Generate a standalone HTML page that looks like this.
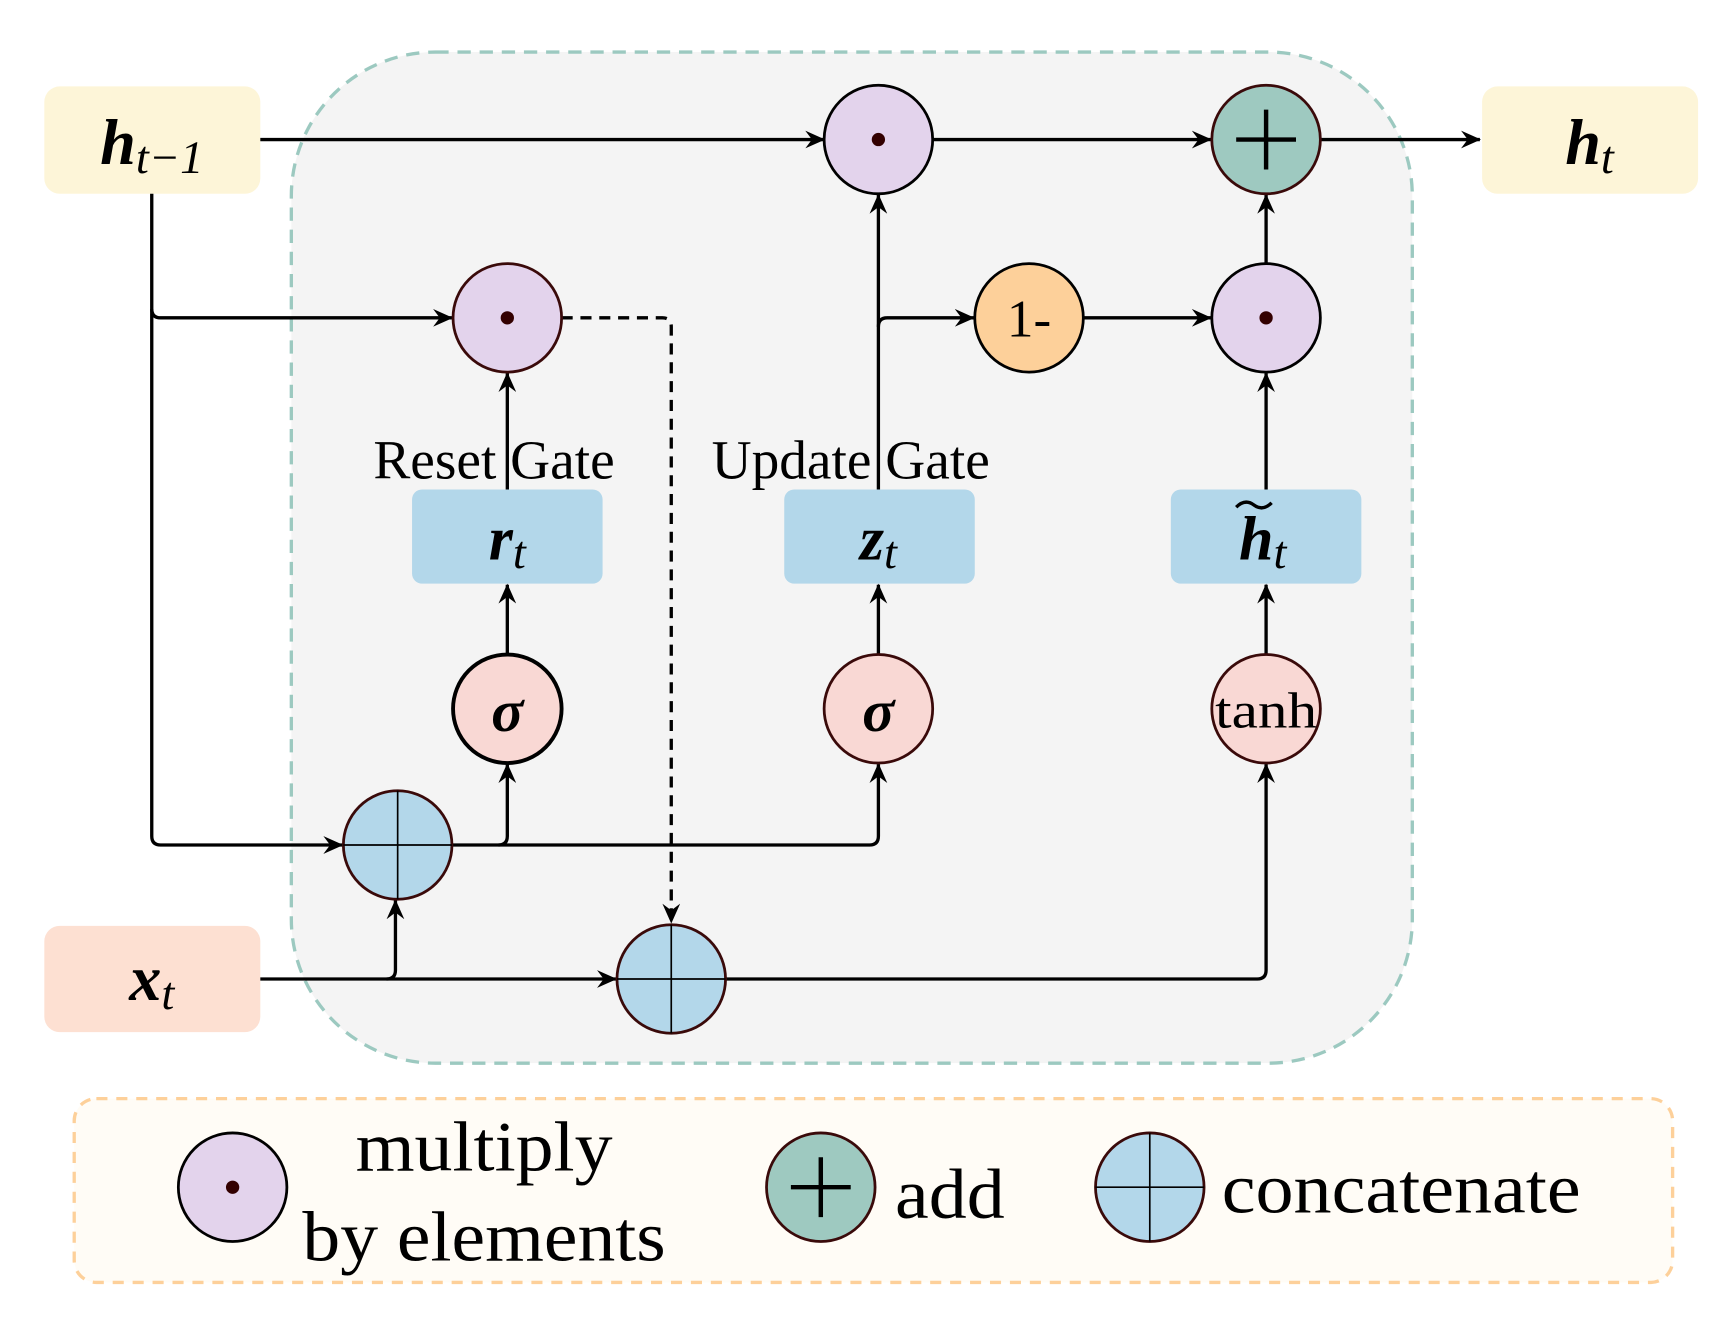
<!DOCTYPE html>
<html><head><meta charset="utf-8"><style>
html,body{margin:0;padding:0;background:#fff;}
svg{display:block;}
.m{font-family:"Liberation Serif",serif;font-style:italic;}
.t{font-family:"Liberation Serif",serif;}
</style></head><body>
<svg width="1728" height="1319" viewBox="0 0 1560 1191" preserveAspectRatio="none" xmlns="http://www.w3.org/2000/svg">
<defs>
<marker id="a" markerWidth="18" markerHeight="16" refX="17" refY="8" orient="auto" markerUnits="userSpaceOnUse" viewBox="0 0 18 16">
<path d="M0,0 L18,8 L0,16 L6,8 Z" fill="#000"/></marker>
</defs>
<rect x="263" y="47" width="1012" height="913" rx="130" fill="#f4f4f4" stroke="#9cc9c0" stroke-width="3" stroke-dasharray="12,8"/>
<rect x="40" y="78" width="195" height="97" rx="14" fill="#fdf5d8"/>
<rect x="1338" y="78" width="195" height="97" rx="14" fill="#fdf5d8"/>
<rect x="40" y="836" width="195" height="96" rx="14" fill="#fde0d2"/>
<text x="137" y="148" class="m" font-size="58" text-anchor="middle" font-weight="bold">h<tspan font-size="42" dy="8" font-weight="normal">t−1</tspan></text>
<text x="1435" y="148" class="m" font-size="58" text-anchor="middle" font-weight="bold">h<tspan font-size="42" dy="8" font-weight="normal">t</tspan></text>
<text x="137" y="903" class="m" font-size="58" text-anchor="middle" font-weight="bold">x<tspan font-size="42" dy="8" font-weight="normal">t</tspan></text>
<rect x="372" y="442" width="172" height="85" rx="9" fill="#b3d7ea"/>
<rect x="708" y="442" width="172" height="85" rx="9" fill="#b3d7ea"/>
<rect x="1057" y="442" width="172" height="85" rx="9" fill="#b3d7ea"/>
<text x="458" y="505" class="m" font-size="56" text-anchor="middle" font-weight="bold">r<tspan font-size="42" dy="8" font-weight="normal">t</tspan></text>
<text x="793" y="505" class="m" font-size="56" text-anchor="middle" font-weight="bold">z<tspan font-size="42" dy="8" font-weight="normal">t</tspan></text>
<text x="1140" y="505" class="m" font-size="56" text-anchor="middle" font-weight="bold">h<tspan font-size="42" dy="8" font-weight="normal">t</tspan></text>
<path d="M1116,458 q8,-8 16,-2 t16,-2" stroke="#000" stroke-width="3" fill="none"/>
<text x="446" y="432" class="t" font-size="50" text-anchor="middle">Reset Gate</text>
<text x="768" y="432" class="t" font-size="50" text-anchor="middle">Update Gate</text>
<g stroke="#000" stroke-width="3" fill="none">
<path d="M235,126 H744" marker-end="url(#a)"/>
<path d="M842,126 H1093" marker-end="url(#a)"/>
<path d="M1192,126 H1336" marker-end="url(#a)"/>
<path d="M137,175 V755 q0,8 8,8 H309" marker-end="url(#a)"/>
<path d="M137,279 q0,8 8,8 H408" marker-end="url(#a)"/>
<path d="M507,287 H598 q8,0 8,8 V833" stroke-dasharray="10,7" marker-end="url(#a)"/>
<path d="M408,763 H785 q8,0 8,-8 V690" marker-end="url(#a)"/>
<path d="M450,763 q8,0 8,-8 V690" marker-end="url(#a)"/>
<path d="M458,591 V528" marker-end="url(#a)"/>
<path d="M458,442 V337" marker-end="url(#a)"/>
<path d="M793,591 V528" marker-end="url(#a)"/>
<path d="M793,442 V176" marker-end="url(#a)"/>
<path d="M793,295 q0,-8 8,-8 H879" marker-end="url(#a)"/>
<path d="M978,287 H1093" marker-end="url(#a)"/>
<path d="M1143,238 V176" marker-end="url(#a)"/>
<path d="M1143,591 V528" marker-end="url(#a)"/>
<path d="M1143,442 V337" marker-end="url(#a)"/>
<path d="M235,884 H556" marker-end="url(#a)"/>
<path d="M349,884 q8,0 8,-8 V813" marker-end="url(#a)"/>
<path d="M655,884 H1135 q8,0 8,-8 V690" marker-end="url(#a)"/>
</g>
<g stroke="#3a0a0a" stroke-width="2.5">
<circle cx="793" cy="126" r="49" fill="#e3d3ec" stroke="#000"/>
<circle cx="1143" cy="126" r="49" fill="#9ec9c0"/>
<circle cx="458" cy="287" r="49" fill="#e3d3ec"/>
<circle cx="929" cy="287" r="49" fill="#fdd09a" stroke="#000"/>
<circle cx="1143" cy="287" r="49" fill="#e3d3ec" stroke="#000"/>
<circle cx="458" cy="640" r="49" fill="#f9d8d4" stroke="#000" stroke-width="3.5"/>
<circle cx="793" cy="640" r="49" fill="#f9d8d4"/>
<circle cx="1143" cy="640" r="49" fill="#f9d8d4"/>
<circle cx="359" cy="763" r="49" fill="#b3d7ea"/>
<circle cx="606" cy="884" r="49" fill="#b3d7ea"/>
</g>
<g fill="#300">
<circle cx="793" cy="126" r="6"/><circle cx="458" cy="287" r="6"/><circle cx="1143" cy="287" r="6"/>
</g>
<g stroke="#000" stroke-width="1.5">
<path d="M310,763 H408 M359,714 V812"/>
<path d="M557,884 H655 M606,835 V933"/>
</g>
<path d="M1116,126 H1170 M1143,99 V153" stroke="#000" stroke-width="4"/>
<text x="929" y="304" class="t" font-size="48" text-anchor="middle">1-</text>
<text x="458" y="660" class="m" font-size="54" text-anchor="middle" font-weight="bold">σ</text>
<text x="793" y="660" class="m" font-size="54" text-anchor="middle" font-weight="bold">σ</text>
<text x="1143" y="657" class="t" font-size="46" text-anchor="middle" textLength="92" lengthAdjust="spacingAndGlyphs">tanh</text>
<rect x="67" y="992" width="1443" height="166" rx="20" fill="#fffcf6" stroke="#fdd09a" stroke-width="3" stroke-dasharray="10,8"/>
<circle cx="210" cy="1072" r="49" fill="#e3d3ec" stroke="#000" stroke-width="2.5"/>
<circle cx="210" cy="1072" r="6" fill="#300"/>
<circle cx="741" cy="1072" r="49" fill="#9ec9c0" stroke="#3a0a0a" stroke-width="2.5"/>
<path d="M714,1072 H768 M741,1045 V1099" stroke="#000" stroke-width="4"/>
<circle cx="1038" cy="1072" r="49" fill="#b3d7ea" stroke="#3a0a0a" stroke-width="2.5"/>
<path d="M989,1072 H1087 M1038,1023 V1121" stroke="#000" stroke-width="1.5"/>
<text x="437" y="1057" class="t" font-size="64" text-anchor="middle" textLength="232" lengthAdjust="spacingAndGlyphs">multiply</text>
<text x="437" y="1138" class="t" font-size="64" text-anchor="middle" textLength="328" lengthAdjust="spacingAndGlyphs">by elements</text>
<text x="808" y="1100" class="t" font-size="64" textLength="99" lengthAdjust="spacingAndGlyphs">add</text>
<text x="1103" y="1095" class="t" font-size="64" textLength="324" lengthAdjust="spacingAndGlyphs">concatenate</text>
</svg>
</body></html>
